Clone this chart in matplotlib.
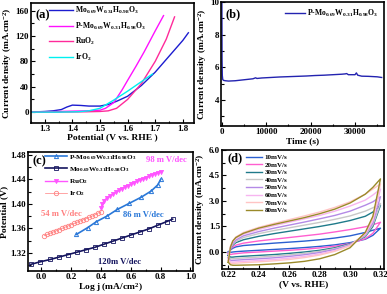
import matplotlib
matplotlib.use("Agg")
import matplotlib.pyplot as plt
from matplotlib.ticker import AutoMinorLocator

plt.rcParams['font.family'] = ['Liberation Serif', 'DejaVu Serif']
plt.rcParams['font.weight'] = 'bold'
plt.rcParams['axes.labelweight'] = 'bold'
plt.rcParams['mathtext.fontset'] = 'custom'
plt.rcParams['mathtext.rm'] = 'Liberation Serif:bold'
plt.rcParams['mathtext.it'] = 'Liberation Serif:bold'
plt.rcParams['mathtext.bf'] = 'Liberation Serif:bold'

MO = r"Mo$_{0.69}$W$_{0.31}$H$_{0.98}$O$_3$"
PMO = r"P-Mo$_{0.69}$W$_{0.31}$H$_{0.98}$O$_3$"
JLABEL = r"Current density (mA.cm$^{-2}$)"

# ---- (a) LSV curves ----
a_mo_v = [1.25, 1.30, 1.33, 1.36, 1.38, 1.40, 1.43, 1.46, 1.50, 1.53, 1.56, 1.60, 1.65, 1.70, 1.75, 1.80, 1.82]
a_mo_j = [0, 1, 2, 4, 8, 11, 10.5, 9.5, 9.5, 12, 17, 25, 42, 63, 88, 113, 125]
a_pmo_v = [1.25, 1.35, 1.45, 1.50, 1.52, 1.55, 1.58, 1.60, 1.63, 1.66, 1.70, 1.73]
a_pmo_j = [0, 1, 2, 3, 6, 15, 35, 50, 72, 95, 128, 152]
a_ru_v = [1.25, 1.35, 1.45, 1.50, 1.53, 1.56, 1.60, 1.65, 1.70, 1.74, 1.77]
a_ru_j = [0, 0, 0.5, 1, 2, 6, 20, 45, 80, 115, 150]
a_ir_v = [1.25, 1.35, 1.42, 1.46, 1.50, 1.55, 1.60, 1.65, 1.69]
a_ir_j = [0, 0, 0.5, 2, 6, 19, 33, 48, 60]

# ---- (b) chronoamperometry ----
b_t = [0, 40, 100, 200, 400, 800, 1500, 3000, 5000, 7000, 7600, 7900, 9000, 11000, 13000,
       15000, 17000, 19000, 21000, 23000, 25000, 27000, 27800, 28100, 28500, 30000, 30300,
       30600, 31500, 33000, 35000, 36000]
b_j = [10.5, 6.5, 5.5, 5.25, 5.2, 5.18, 5.16, 5.18, 5.24, 5.3, 5.36, 5.32, 5.35, 5.38, 5.41,
       5.43, 5.45, 5.47, 5.5, 5.52, 5.55, 5.58, 5.6, 5.62, 5.55, 5.55, 5.66, 5.52, 5.46,
       5.45, 5.42, 5.38]

# ---- (c) Tafel ----
c_pmo_x = [0.235, 0.31, 0.37, 0.44, 0.51, 0.59, 0.67, 0.736, 0.78, 0.80]
c_pmo_y = [1.350, 1.361, 1.371, 1.380, 1.391, 1.401, 1.411, 1.421, 1.431, 1.440]
c_mo_x = [-0.07, -0.01, 0.06, 0.12, 0.18, 0.24, 0.30, 0.36, 0.42, 0.48, 0.54, 0.60, 0.66, 0.72, 0.78, 0.84, 0.88]
c_mo_y = [1.301, 1.305, 1.309, 1.313, 1.317, 1.321, 1.325, 1.329, 1.334, 1.339, 1.344, 1.349, 1.354, 1.359, 1.365, 1.371, 1.375]
c_ru_x = [0.40, 0.41, 0.42, 0.44, 0.46, 0.48, 0.50, 0.52, 0.54, 0.56, 0.58, 0.60, 0.62, 0.64,
          0.66, 0.68, 0.70, 0.72, 0.74, 0.76, 0.78, 0.80]
c_ru_y = [1.393, 1.400, 1.405, 1.410, 1.413, 1.416, 1.419, 1.422, 1.425, 1.428, 1.430, 1.432,
          1.435, 1.437, 1.439, 1.441, 1.443, 1.445, 1.447, 1.449, 1.451, 1.453]
c_ir_x = [0.02, 0.04, 0.06, 0.08, 0.10, 0.12, 0.14, 0.16, 0.18, 0.20, 0.22, 0.24, 0.26, 0.28,
          0.30, 0.32, 0.34, 0.36, 0.38, 0.40]
c_ir_y = [1.348, 1.350, 1.352, 1.354, 1.356, 1.358, 1.360, 1.362, 1.364, 1.366, 1.368, 1.370,
          1.372, 1.374, 1.376, 1.378, 1.380, 1.382, 1.385, 1.387]

# ---- (d) CV at different scan rates ----
d_x = [0.220, 0.2215, 0.223, 0.225, 0.230, 0.240, 0.250, 0.260, 0.270, 0.280, 0.290, 0.300, 0.310, 0.315, 0.320]
d_rates = ["10mV/s", "20mV/s", "30mV/s", "40mV/s", "50mV/s", "60mV/s", "70mV/s", "80mV/s"]
d_up = [
    [0.0, 0.12, 0.22, 0.30, 0.38, 0.45, 0.52, 0.58, 0.64, 0.72, 0.82, 0.95, 1.15, 1.28, 1.40],
    [-0.1, 0.15, 0.30, 0.40, 0.52, 0.65, 0.75, 0.85, 0.95, 1.05, 1.18, 1.32, 1.48, 1.60, 1.75],
    [-0.2, 0.20, 0.40, 0.55, 0.72, 0.92, 1.08, 1.22, 1.36, 1.50, 1.66, 1.85, 2.10, 2.35, 2.75],
    [-0.3, 0.20, 0.45, 0.62, 0.85, 1.08, 1.26, 1.42, 1.58, 1.74, 1.92, 2.12, 2.40, 2.60, 2.85],
    [-0.35, 0.25, 0.50, 0.70, 0.95, 1.20, 1.40, 1.58, 1.76, 1.95, 2.15, 2.40, 2.75, 2.95, 3.25],
    [-0.4, 0.30, 0.60, 0.80, 1.05, 1.32, 1.55, 1.75, 1.95, 2.15, 2.40, 2.70, 3.05, 3.35, 3.70],
    [-0.5, 0.35, 0.65, 0.88, 1.15, 1.45, 1.68, 1.90, 2.12, 2.35, 2.62, 2.95, 3.40, 3.70, 4.00],
    [-0.6, 0.30, 0.65, 0.85, 1.10, 1.40, 1.62, 1.82, 2.02, 2.25, 2.52, 2.88, 3.40, 3.80, 4.30],
]
d_down = [
    [0.0, -0.02, 0.0, 0.02, 0.05, 0.10, 0.15, 0.20, 0.26, 0.33, 0.42, 0.55, 0.75, 0.98, 1.40],
    [-0.1, -0.15, -0.12, -0.10, -0.05, 0.0, 0.05, 0.10, 0.16, 0.24, 0.34, 0.50, 0.78, 1.10, 1.75],
    [-0.2, -0.30, -0.30, -0.28, -0.25, -0.20, -0.15, -0.08, 0.0, 0.10, 0.25, 0.48, 0.90, 1.50, 2.75],
    [-0.3, -0.40, -0.40, -0.38, -0.35, -0.30, -0.24, -0.17, -0.08, 0.04, 0.20, 0.45, 0.95, 1.60, 2.85],
    [-0.35, -0.50, -0.50, -0.48, -0.45, -0.40, -0.34, -0.26, -0.16, -0.03, 0.15, 0.42, 1.00, 1.70, 3.25],
    [-0.4, -0.58, -0.60, -0.58, -0.55, -0.50, -0.44, -0.36, -0.26, -0.12, 0.08, 0.38, 1.05, 1.85, 3.70],
    [-0.5, -0.66, -0.68, -0.66, -0.63, -0.58, -0.52, -0.44, -0.33, -0.18, 0.04, 0.36, 1.10, 2.00, 4.00],
    [-0.6, -0.75, -0.78, -0.78, -0.77, -0.75, -0.70, -0.64, -0.55, -0.40, -0.15, 0.25, 1.15, 2.10, 4.30],
]
d_colors = ["#2a5fd0", "#ff5fd0", "#1f7a8a", "#c8c8c8", "#b48ae6", "#f7b5f0", "#ffc4c4", "#9a8a2a"]

TICK_FS = 6.5
LAB_FS = 6.8


def style_axes(ax):
    for sp in ax.spines.values():
        sp.set_linewidth(1.2)
    ax.xaxis.set_minor_locator(AutoMinorLocator(2))
    ax.yaxis.set_minor_locator(AutoMinorLocator(2))
    ax.tick_params(which='both', direction='in', labelsize=TICK_FS, width=0.8, pad=1.5)
    ax.tick_params(which='major', length=3)
    ax.tick_params(which='minor', length=1.8)


fig = plt.figure(figsize=(3.87, 2.94), dpi=100)

# (a)
ax = fig.add_axes([0.080, 0.582, 0.421, 0.408])
ax.plot(a_mo_v, a_mo_j, color='#1c1cd0', lw=1.0, label=MO)
ax.plot(a_pmo_v, a_pmo_j, color='#ff10ff', lw=1.0, label=PMO)
ax.plot(a_ru_v, a_ru_j, color='#ff2a9a', lw=1.0, label=r"RuO$_2$")
ax.plot(a_ir_v, a_ir_j, color='#00f0f0', lw=1.0, label=r"IrO$_2$")
ax.set_xlim(1.25, 1.84)
ax.set_ylim(-17, 172)
ax.set_xticks([1.3, 1.4, 1.5, 1.6, 1.7, 1.8])
ax.set_yticks([0, 40, 80, 120, 160])
style_axes(ax)
ax.set_xlabel("Potential (V vs. RHE )", fontsize=LAB_FS, labelpad=0.5)
ax.set_ylabel(JLABEL, fontsize=LAB_FS, labelpad=1)
ax.text(0.03, 0.95, "(a)", transform=ax.transAxes, fontsize=9, fontweight='bold', va='top')
ax.legend(loc='upper left', bbox_to_anchor=(0.08, 1.02), frameon=False, fontsize=5.5,
          handlelength=3.2, handletextpad=0.3, labelspacing=0.55, borderaxespad=0.2)

# (b)
ax = fig.add_axes([0.571, 0.571, 0.421, 0.422])
ax.plot(b_t, b_j, color='#2323b0', lw=1.0, label=PMO)
ax.set_xlim(-200, 36500)
ax.set_ylim(2.4, 10)
ax.set_xticks([0, 10000, 20000, 30000])
ax.set_yticks([4, 6, 8, 10])
style_axes(ax)
ax.set_xlabel("Time (s)", fontsize=LAB_FS, labelpad=0.5)
ax.set_ylabel(JLABEL, fontsize=LAB_FS, labelpad=1)
ax.text(0.03, 0.95, "(b)", transform=ax.transAxes, fontsize=9, fontweight='bold', va='top')
ax.legend(loc='upper right', frameon=False, fontsize=5.5, handlelength=2.6,
          handletextpad=0.3, borderaxespad=0.3)

# (c)
ax = fig.add_axes([0.072, 0.078, 0.426, 0.405])
ax.plot(c_pmo_x, c_pmo_y, color='#2a78d8', lw=1.2, marker='^', ms=3, mfc='none', mew=0.7, label=PMO)
ax.plot(c_mo_x, c_mo_y, color='#14145e', lw=1.2, marker='s', ms=2.2, mfc='none', mew=0.6, label=MO)
ax.plot(c_ru_x, c_ru_y, color='#ff55ff', lw=1.0, marker='v', ms=3, mew=0.6, label=r"RuO$_2$")
ax.plot(c_ir_x, c_ir_y, color='#ff8080', lw=0.5, marker='o', ms=3.2, mfc='none', mew=0.6, label=r"IrO$_2$")
ax.set_xlim(-0.09, 1.015)
ax.set_ylim(1.29, 1.485)
ax.set_xticks([0.0, 0.2, 0.4, 0.6, 0.8, 1.0])
ax.set_yticks([1.32, 1.36, 1.40, 1.44, 1.48])
style_axes(ax)
ax.set_xlabel(r"Log j (mA/cm$^2$)", fontsize=LAB_FS, labelpad=0)
ax.set_ylabel("Potential (V)", fontsize=LAB_FS, labelpad=1)
ax.text(0.03, 0.97, "(c)", transform=ax.transAxes, fontsize=9, fontweight='bold', va='top')
ax.text(0.70, 1.468, "98 m V/dec", color='#ff55ff', fontsize=6.2, fontweight='bold')
ax.text(0.0, 1.380, "54 m V/dec", color='#ff8080', fontsize=6.2, fontweight='bold')
ax.text(0.55, 1.378, "86 m V/dec", color='#2a78d8', fontsize=6.2, fontweight='bold')
ax.text(0.38, 1.302, "120m V/dec", color='#14145e', fontsize=6.2, fontweight='bold')
ax.legend(loc='upper left', bbox_to_anchor=(0.08, 1.03), frameon=False, fontsize=5.2,
          handlelength=3.0, handletextpad=0.3, labelspacing=0.45, borderaxespad=0.2)

# (d)
ax = fig.add_axes([0.574, 0.085, 0.419, 0.405])
for name, up, down, col in zip(d_rates, d_up, d_down, d_colors):
    ax.plot(d_x + d_x[::-1], up + down[::-1], color=col, lw=1.0, label=name)
ax.set_xlim(0.216, 0.3225)
ax.set_ylim(-1.0, 6.0)
ax.set_xticks([0.22, 0.24, 0.26, 0.28, 0.30, 0.32])
ax.set_yticks([0.0, 1.5, 3.0, 4.5, 6.0])
ax.set_yticklabels(["0.0", "1.5", "3.0", "4.5", "6.0"])
style_axes(ax)
ax.set_xlabel("(V vs. RHE)", fontsize=LAB_FS, labelpad=0.5)
ax.set_ylabel(JLABEL, fontsize=LAB_FS, labelpad=1)
ax.text(0.03, 0.98, "(d)", transform=ax.transAxes, fontsize=9, fontweight='bold', va='top')
ax.legend(loc='upper left', bbox_to_anchor=(0.12, 1.0), frameon=False, fontsize=5.0,
          handlelength=2.4, handletextpad=0.3, labelspacing=0.25, borderaxespad=0.2)

fig.savefig("out.png", dpi=100)
